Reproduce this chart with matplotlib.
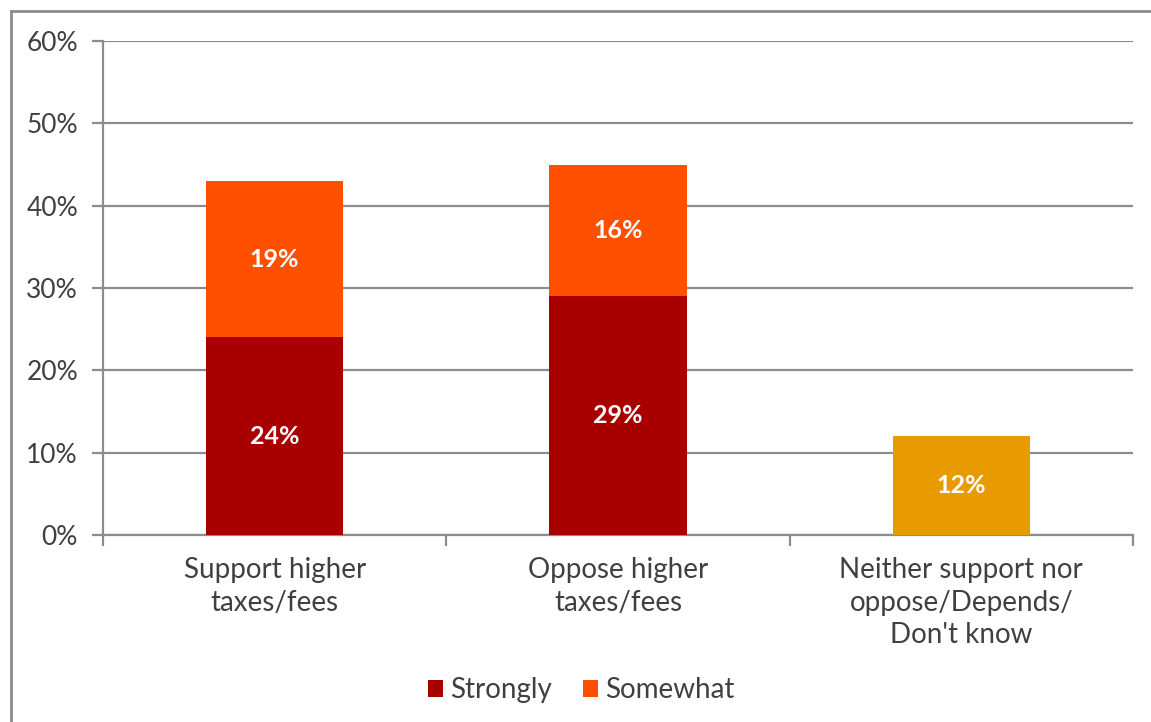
import matplotlib.pyplot as plt
from matplotlib.lines import Line2D
from matplotlib.ticker import FixedLocator, PercentFormatter

plt.rcParams['font.family'] = ['Lato', 'DejaVu Sans']

categories = ["Support higher\ntaxes/fees", "Oppose higher\ntaxes/fees",
              "Neither support nor\noppose/Depends/\nDon't know"]
strongly = [24, 29, 0]
somewhat = [19, 16, 0]
neither = [0, 0, 12]

dark_red = "#A80000"
orange = "#FF5000"
gold = "#E89B00"
grey = "#8C8C8C"
text_col = "#404040"

fig = plt.figure(figsize=(11.51, 7.22), dpi=100)
ax = fig.add_axes([103 / 1151, 1 - 535 / 722, 1030 / 1151, 494 / 722])

x = list(range(len(categories)))
w = 0.4
ax.bar(x[:2], strongly[:2], width=w, color=dark_red, label="Strongly", zorder=3)
ax.bar(x[:2], somewhat[:2], width=w, bottom=strongly[:2], color=orange,
       label="Somewhat", zorder=3)
ax.bar(x[2:], neither[2:], width=w, color=gold, zorder=3)

# value labels in the middle of each segment
for i in x:
    if strongly[i]:
        ax.text(i, strongly[i] / 2, f"{strongly[i]}%", ha='center', va='center',
                color='white', fontsize=18, fontweight='bold', zorder=4)
    if somewhat[i]:
        ax.text(i, strongly[i] + somewhat[i] / 2, f"{somewhat[i]}%", ha='center',
                va='center', color='white', fontsize=18, fontweight='bold', zorder=4)
    if neither[i]:
        ax.text(i, neither[i] / 2, f"{neither[i]}%", ha='center', va='center',
                color='white', fontsize=18, fontweight='bold', zorder=4)

ax.set_xlim(-0.5, 2.5)
ax.set_ylim(0, 60)
ax.set_yticks(range(0, 61, 10))
ax.yaxis.set_major_formatter(PercentFormatter(decimals=0))
ax.grid(axis='y', color=grey, linewidth=1.6, zorder=0)

ax.set_xticks(x)
ax.set_xticklabels(categories, fontsize=20, color=text_col, linespacing=1.3)
ax.xaxis.set_minor_locator(FixedLocator([-0.5, 0.5, 1.5, 2.5]))
ax.tick_params(axis='x', which='major', length=0, pad=16)
ax.tick_params(axis='x', which='minor', length=8, width=1.6, color=grey)
ax.tick_params(axis='y', length=8, width=1.6, color=grey, labelsize=19,
               labelcolor=text_col, pad=10)

for side in ['top', 'right']:
    ax.spines[side].set_visible(False)
for side in ['left', 'bottom']:
    ax.spines[side].set_color(grey)
    ax.spines[side].set_linewidth(1.6)

fig.legend(loc='center', bbox_to_anchor=(0.505, 1 - 690 / 722), ncol=2, frameon=False,
           fontsize=20, labelcolor=text_col, handlelength=0.55, handleheight=0.55,
           handletextpad=0.25, columnspacing=1.1)

# outer frame (top and left edges)
fig.add_artist(Line2D([11 / 1151, 1.0], [1 - 11 / 722, 1 - 11 / 722],
                      transform=fig.transFigure, color=grey, linewidth=2))
fig.add_artist(Line2D([11 / 1151, 11 / 1151], [0.0, 1 - 11 / 722],
                      transform=fig.transFigure, color=grey, linewidth=2))

fig.savefig("out.png", dpi=100, facecolor='white')
